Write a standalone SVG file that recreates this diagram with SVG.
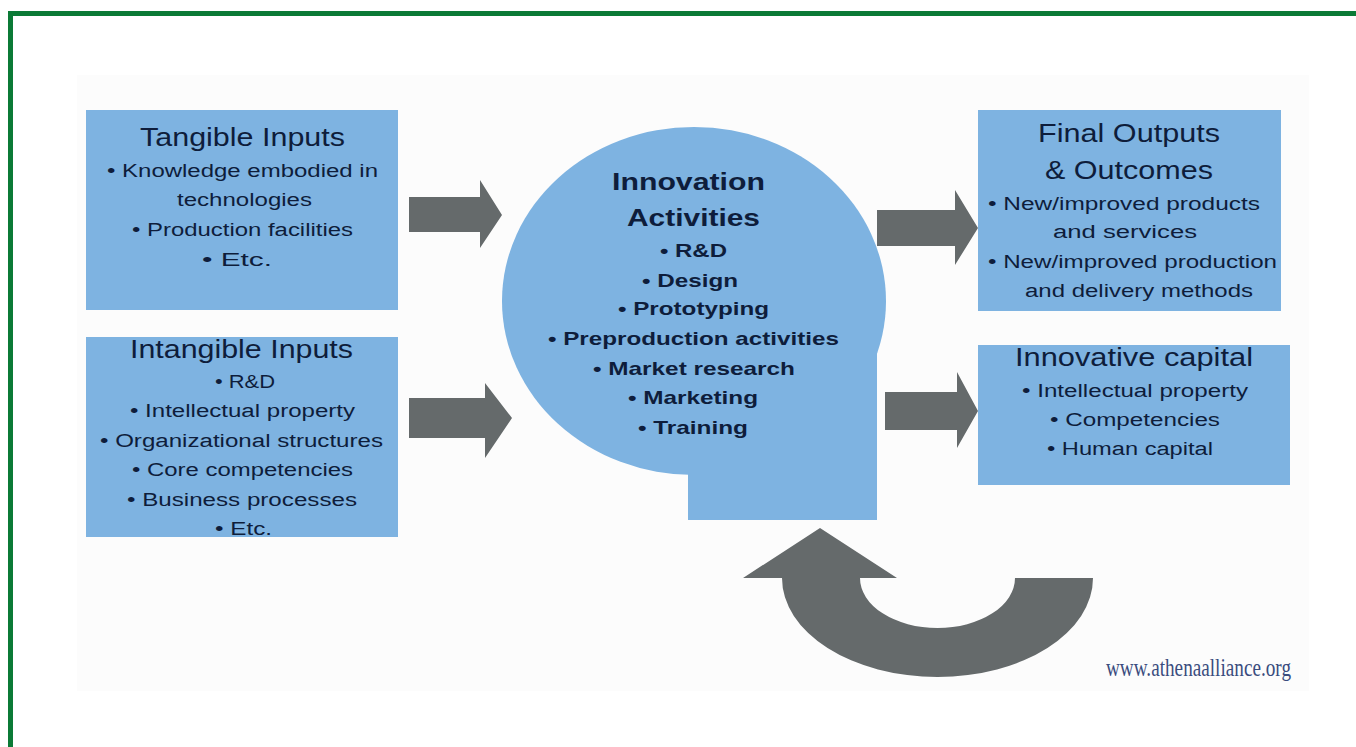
<svg xmlns="http://www.w3.org/2000/svg" width="1356" height="747" viewBox="0 0 1356 747">
  <style>
    .box { fill: #7eb3e1; }
    .arrow { fill: #656a6b; }
    text { font-family: "Liberation Sans", Arial, sans-serif; fill: #0e1d3b; }
    .head { font-size: 25px; }
    .item { font-size: 18px; }
    .bhead { font-size: 24px; font-weight: bold; }
    .bitem { font-size: 18.5px; font-weight: bold; }
    .url { font-family: "Liberation Serif", "DejaVu Serif", serif; font-size: 26px; fill: #3a4c7e; }
  </style>

  <!-- page frame and panel backdrop -->
  <rect x="0" y="0" width="1356" height="747" fill="#ffffff"/>
  <rect x="77" y="75" width="1232" height="616" fill="#fcfcfc"/>
  <path d="M10.5 747 V13.5 H1356" fill="none" stroke="#0b7a36" stroke-width="5"/>

  <!-- connectors -->
  <g id="connectors">
    <polygon class="arrow" points="409,197 480,197 480,180 502,215 480,248 480,232 409,232"/>
    <polygon class="arrow" points="409,398 485,398 485,383 512,418 485,458 485,438 409,438"/>
    <polygon class="arrow" points="877,210 955,210 955,190 978,228 955,265 955,246 877,246"/>
    <polygon class="arrow" points="885,392 957,392 957,372 978,411 957,448 957,430 885,430"/>
    <path class="arrow" d="M782 578 A155.5 99 0 0 0 1093 578 L1015 578 A77.5 50 0 0 1 860 578 L897 578 L820 528 L743 578 Z"/>
  </g>

  <!-- Tangible Inputs -->
  <g id="tangible-inputs">
    <rect class="box" x="86" y="110" width="312" height="200"/>
    <text class="head" x="140" y="146" textLength="205" lengthAdjust="spacingAndGlyphs">Tangible Inputs</text>
    <text class="item" x="107" y="177" textLength="271" lengthAdjust="spacingAndGlyphs">• Knowledge embodied in</text>
    <text class="item" x="177" y="206" textLength="135" lengthAdjust="spacingAndGlyphs">technologies</text>
    <text class="item" x="132" y="236" textLength="221" lengthAdjust="spacingAndGlyphs">• Production facilities</text>
    <text class="item" x="202" y="266" textLength="70" lengthAdjust="spacingAndGlyphs">• Etc.</text>
  </g>

  <!-- Intangible Inputs -->
  <g id="intangible-inputs">
    <rect class="box" x="86" y="337" width="312" height="200"/>
    <text class="head" x="130" y="358" textLength="223" lengthAdjust="spacingAndGlyphs">Intangible Inputs</text>
    <text class="item" x="215" y="388" textLength="60" lengthAdjust="spacingAndGlyphs">• R&amp;D</text>
    <text class="item" x="130" y="417" textLength="225" lengthAdjust="spacingAndGlyphs">• Intellectual property</text>
    <text class="item" x="100" y="447" textLength="283" lengthAdjust="spacingAndGlyphs">• Organizational structures</text>
    <text class="item" x="132" y="476" textLength="221" lengthAdjust="spacingAndGlyphs">• Core competencies</text>
    <text class="item" x="127" y="506" textLength="230" lengthAdjust="spacingAndGlyphs">• Business processes</text>
    <text class="item" x="215" y="535" textLength="57" lengthAdjust="spacingAndGlyphs">• Etc.</text>
  </g>

  <!-- Innovation Activities: round body with a square tab at lower right -->
  <g id="innovation-activities">
    <ellipse class="box" cx="694" cy="301" rx="192" ry="174"/>
    <rect class="box" x="688" y="301" width="189" height="219"/>
    <text class="bhead" x="612" y="190" textLength="153" lengthAdjust="spacingAndGlyphs">Innovation</text>
    <text class="bhead" x="627" y="226" textLength="133" lengthAdjust="spacingAndGlyphs">Activities</text>
    <text class="bitem" x="660" y="257" textLength="67" lengthAdjust="spacingAndGlyphs">• R&amp;D</text>
    <text class="bitem" x="642" y="287" textLength="96" lengthAdjust="spacingAndGlyphs">• Design</text>
    <text class="bitem" x="618" y="315" textLength="151" lengthAdjust="spacingAndGlyphs">• Prototyping</text>
    <text class="bitem" x="548" y="345" textLength="291" lengthAdjust="spacingAndGlyphs">• Preproduction activities</text>
    <text class="bitem" x="593" y="375" textLength="202" lengthAdjust="spacingAndGlyphs">• Market research</text>
    <text class="bitem" x="628" y="404" textLength="130" lengthAdjust="spacingAndGlyphs">• Marketing</text>
    <text class="bitem" x="638" y="434" textLength="110" lengthAdjust="spacingAndGlyphs">• Training</text>
  </g>

  <!-- Final Outputs & Outcomes -->
  <g id="final-outputs">
    <rect class="box" x="978" y="110" width="303" height="201"/>
    <text class="head" x="1038" y="142" textLength="182" lengthAdjust="spacingAndGlyphs">Final Outputs</text>
    <text class="head" x="1045" y="179" textLength="168" lengthAdjust="spacingAndGlyphs">&amp; Outcomes</text>
    <text class="item" x="988" y="210" textLength="272" lengthAdjust="spacingAndGlyphs">• New/improved products</text>
    <text class="item" x="1053" y="238" textLength="144" lengthAdjust="spacingAndGlyphs">and services</text>
    <text class="item" x="988" y="268" textLength="289" lengthAdjust="spacingAndGlyphs">• New/improved production</text>
    <text class="item" x="1025" y="297" textLength="228" lengthAdjust="spacingAndGlyphs">and delivery methods</text>
  </g>

  <!-- Innovative capital -->
  <g id="innovative-capital">
    <rect class="box" x="978" y="345" width="312" height="140"/>
    <text class="head" x="1015" y="366" textLength="238" lengthAdjust="spacingAndGlyphs">Innovative capital</text>
    <text class="item" x="1022" y="397" textLength="226" lengthAdjust="spacingAndGlyphs">• Intellectual property</text>
    <text class="item" x="1050" y="426" textLength="170" lengthAdjust="spacingAndGlyphs">• Competencies</text>
    <text class="item" x="1047" y="455" textLength="166" lengthAdjust="spacingAndGlyphs">• Human capital</text>
  </g>

  <!-- site credit -->
  <text class="url" x="1106" y="676" textLength="185" lengthAdjust="spacingAndGlyphs">www.athenaalliance.org</text>
</svg>
